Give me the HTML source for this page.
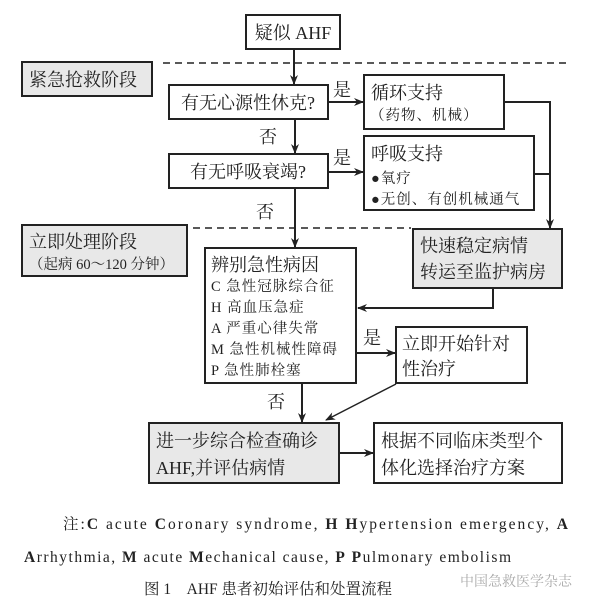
<!DOCTYPE html>
<html><head><meta charset="utf-8"><style>
html,body{margin:0;padding:0;background:#fff;}
svg{display:block;}
text{font-family:"Liberation Serif","Noto Serif CJK SC",serif;fill:#222;}
</style></head><body>
<svg width="600" height="606" viewBox="0 0 600 606" xmlns="http://www.w3.org/2000/svg">
<defs><marker id="a" markerWidth="10" markerHeight="10" refX="9" refY="5" orient="auto" markerUnits="userSpaceOnUse"><path d="M0,1 L10,5 L0,9 L3,5 Z" fill="#222"/></marker></defs>
<g stroke="#222" stroke-width="2" fill="none">
<line x1="163" y1="63" x2="566" y2="63" stroke-dasharray="7,5" stroke-width="1.6"/>
<line x1="193" y1="228" x2="411" y2="228" stroke-dasharray="7,5" stroke-width="1.6"/>
<rect x="246" y="15" width="94" height="34" fill="#fff"/>
<rect x="22" y="62" width="130" height="34" fill="#e8e8e8"/>
<rect x="169" y="85" width="159" height="34" fill="#fff"/>
<rect x="364" y="75" width="140" height="54" fill="#fff"/>
<rect x="169" y="154" width="159" height="34" fill="#fff"/>
<rect x="364" y="136" width="170" height="74" fill="#fff"/>
<rect x="22" y="225" width="165" height="51" fill="#e8e8e8"/>
<rect x="205" y="248" width="151" height="135" fill="#fff"/>
<rect x="413" y="229" width="149" height="59" fill="#e8e8e8"/>
<rect x="396" y="327" width="131" height="56" fill="#fff"/>
<rect x="149" y="423" width="190" height="60" fill="#e8e8e8"/>
<rect x="374" y="423" width="188" height="60" fill="#fff"/>
<line x1="294" y1="49" x2="294" y2="84" marker-end="url(#a)"/>
<line x1="328" y1="102" x2="363" y2="102" marker-end="url(#a)"/>
<line x1="295" y1="119" x2="295" y2="153" marker-end="url(#a)"/>
<line x1="328" y1="172" x2="363" y2="172" marker-end="url(#a)"/>
<line x1="295" y1="188" x2="295" y2="247" marker-end="url(#a)"/>
<polyline points="504,102 550,102 550,228" marker-end="url(#a)"/>
<line x1="534" y1="174" x2="550" y2="174"/>
<polyline points="493,288 493,308 358,308" marker-end="url(#a)"/>
<line x1="356" y1="353" x2="395" y2="353" marker-end="url(#a)"/>
<line x1="302" y1="383" x2="302" y2="422" marker-end="url(#a)"/>
<line x1="396" y1="384" x2="326" y2="420" stroke-width="1.4" marker-end="url(#a)"/>
<line x1="339" y1="453" x2="373" y2="453" marker-end="url(#a)"/>
</g>
<g font-size="18">
<text x="293" y="39" text-anchor="middle">疑似 AHF</text>
<text x="29" y="86">紧急抢救阶段</text>
<text x="248" y="109" text-anchor="middle">有无心源性休克?</text>
<text x="248" y="178" text-anchor="middle">有无呼吸衰竭?</text>
<text x="371" y="99">循环支持</text>
<text x="371" y="160">呼吸支持</text>
<text x="29" y="248">立即处理阶段</text>
<text x="211" y="271">辨别急性病因</text>
<text x="420" y="252">快速稳定病情</text>
<text x="420" y="278">转运至监护病房</text>
<text x="402" y="350">立即开始针对</text>
<text x="402" y="375">性治疗</text>
<text x="156" y="447">进一步综合检查确诊</text>
<text x="156" y="474">AHF,并评估病情</text>
<text x="381" y="447">根据不同临床类型个</text>
<text x="381" y="474">体化选择治疗方案</text>
<text x="333" y="96">是</text>
<text x="333" y="164">是</text>
<text x="259" y="143">否</text>
<text x="256" y="218">否</text>
<text x="363" y="344">是</text>
<text x="267" y="408">否</text>
</g>
<g font-size="14.5" letter-spacing="1">
<text x="370" y="120">（药物、机械）</text>
<text x="371" y="183">●氧疗</text>
<text x="371" y="204">●无创、有创机械通气</text>
<text x="29" y="269" letter-spacing="0">（起病 60～120 分钟）</text>
<text x="211" y="291">C 急性冠脉综合征</text>
<text x="211" y="312">H 高血压急症</text>
<text x="211" y="333">A 严重心律失常</text>
<text x="211" y="354">M 急性机械性障碍</text>
<text x="211" y="375">P 急性肺栓塞</text>
</g>
<g font-size="15.5">
<text x="63" y="529" textLength="505" lengthAdjust="spacing">注:<tspan font-weight="bold">C</tspan> acute <tspan font-weight="bold">C</tspan>oronary syndrome, <tspan font-weight="bold">H</tspan> <tspan font-weight="bold">H</tspan>ypertension emergency, <tspan font-weight="bold">A</tspan></text>
<text x="24" y="562" textLength="487" lengthAdjust="spacing"><tspan font-weight="bold">A</tspan>rrhythmia, <tspan font-weight="bold">M</tspan> acute <tspan font-weight="bold">M</tspan>echanical cause, <tspan font-weight="bold">P</tspan> <tspan font-weight="bold">P</tspan>ulmonary embolism</text>
<text x="144" y="594">图 1　AHF 患者初始评估和处置流程</text>
</g>
<text x="460" y="586" font-size="14" style="fill:#aaa">中国急救医学杂志</text>
</svg>
</body></html>
